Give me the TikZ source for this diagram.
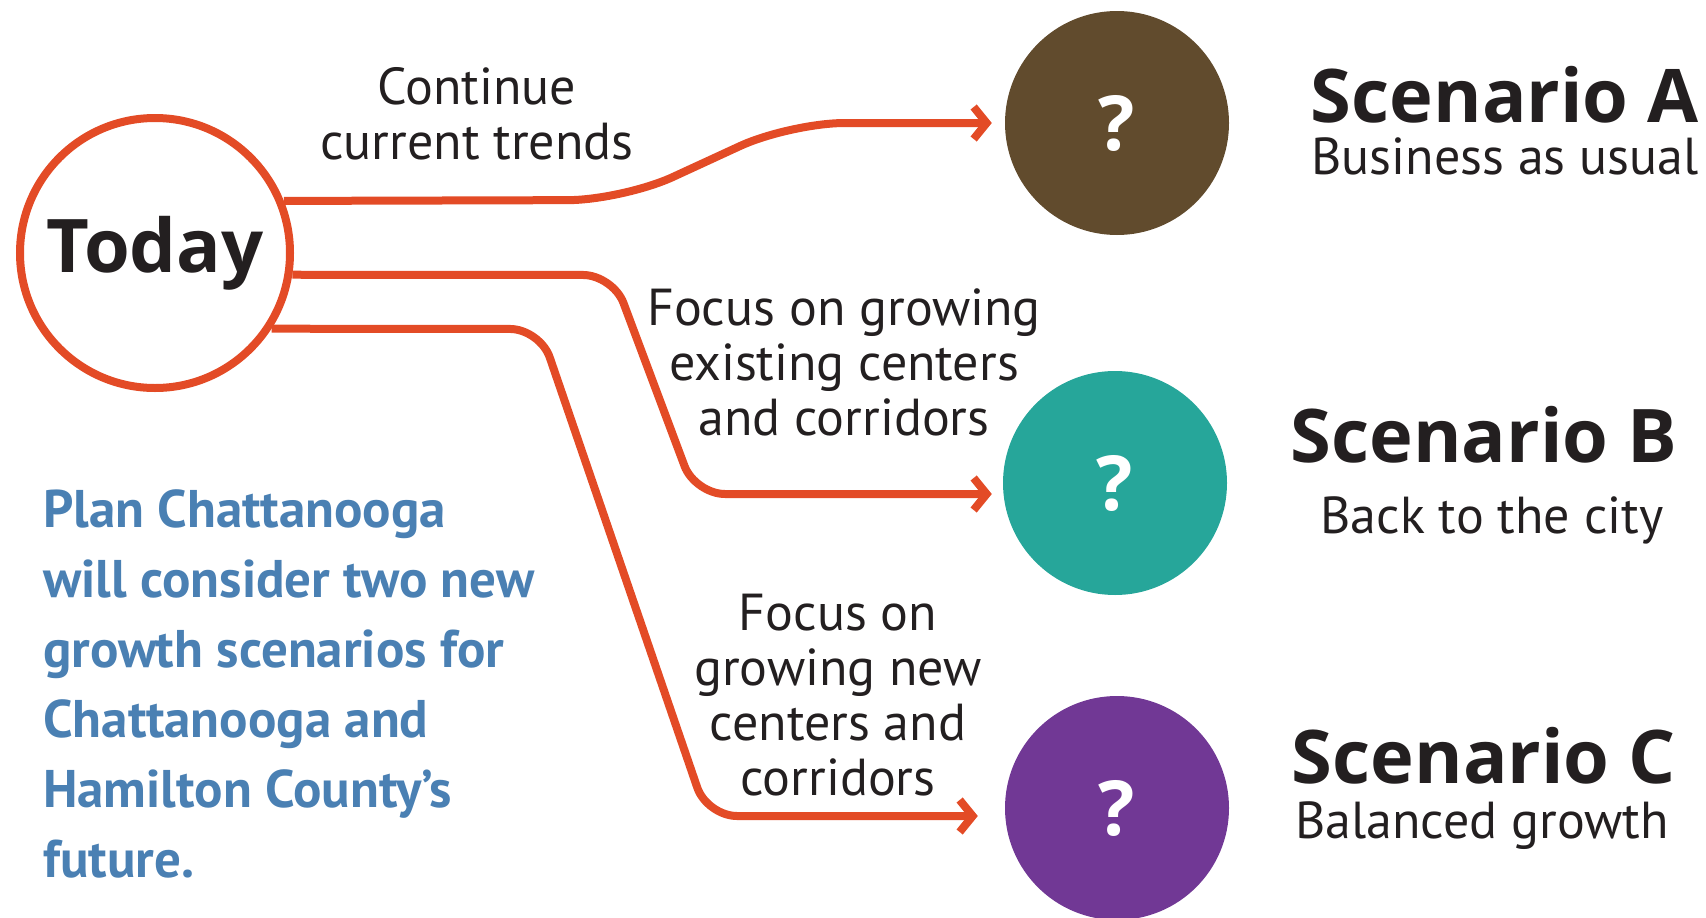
\documentclass[tikz,border=0pt]{standalone}
\usepackage{fontspec}
\setmainfont{PT Sans}
\newfontfamily\headfont{Open Sans}
\usepackage{xcolor}
\usepackage{tikz}
\usetikzlibrary{arrows.meta, positioning}
\usetikzlibrary{calc}
\definecolor{trendorange}{HTML}{E34B26}
\definecolor{scenbrown}{HTML}{614B2D}
\definecolor{scenteal}{HTML}{26A69A}
\definecolor{scenpurple}{HTML}{713895}
\definecolor{planblue}{HTML}{4A80B3}
\definecolor{inkblack}{HTML}{231F20}

\begin{document}
\begin{tikzpicture}[x=1pt, y=-1pt,
        startnode/.style={draw=trendorange, line width=8pt, circle,
            minimum size=270pt, inner sep=0pt, text=inkblack,
            font=\headfont\bfseries\fontsize{74}{80}\selectfont},
        scenario/.style={circle, minimum size=224pt, inner sep=0pt,
            text=white, font=\headfont\bfseries\fontsize{76}{76}\selectfont},
        pathlabel/.style={align=center, inner sep=0pt, text=inkblack,
            font=\fontsize{52}{55}\selectfont},
        scentitle/.style={anchor=base, inner sep=0pt, text=inkblack,
            font=\headfont\bfseries\fontsize{74}{74}\selectfont},
        scensub/.style={anchor=base, inner sep=0pt, text=inkblack,
            font=\fontsize{52}{55}\selectfont},
        link/.style={draw=trendorange, line width=8pt, rounded corners=30pt,
            -{Straight Barb[length=13pt, width=32pt]}}]
        \useasboundingbox (0,0) rectangle (1706,918);
        % start and the three scenarios
        \node[startnode] (today) at (155,253) {Today};
        \node[scenario, fill=scenbrown] (scA) at (1117,123) {?};
        \node[scenario, fill=scenteal] (scB) at (1115,483) {?};
        \node[scenario, fill=scenpurple] (scC) at (1117,808) {?};
        % bends of the connectors
        \coordinate (bendA1) at (623,200);
        \coordinate (bendA2) at (790,123);
        \coordinate (bendB1) at (613,275);
        \coordinate (bendB2) at (695,494);
        \coordinate (bendC1) at (540,329);
        \coordinate (bendC2) at (707,816);
        \draw[link, rounded corners=55pt, shorten >=13pt] (today.22.6) -- (bendA1) -- (bendA2) -- (bendA2 -| scA.west);
        \draw[link, shorten >=11pt] (today.-9.2) -- (bendB1) -- (bendB2) -- (bendB2 -| scB.west);
        \draw[link, shorten >=27pt] (today.-33.4) -- (bendC1) -- (bendC2) -- (bendC2 -| scC.west);
        % labels on the connectors
        \node[pathlabel] (trendlabel) at (477,114) {Continue\\current trends};
        \node[pathlabel] (existlabel) at (844,362) {Focus on growing\\existing centers\\and corridors};
        \node[pathlabel] (newlabel) at (838,695) {Focus on\\growing new\\centers and\\corridors};
        % scenario names
        \node[scentitle] (titleA) at (1505,122) {Scenario A};
        \node[scensub] (subA) at (1505,174) {Business as usual};
        \node[scentitle] (titleB) at (1484,462) {Scenario B};
        \node[scensub] (subB) at (1492,533) {Back to the city};
        \node[scentitle] (titleC) at (1484,783) {Scenario C};
        \node[scensub] (subC) at (1482,838) {Balanced growth};
        % note
        \node[anchor=north west, inner sep=0pt, align=left, text=planblue,
            font=\bfseries\fontsize{53}{70}\selectfont] (note) at (43,489)
            {Plan Chattanooga\\will consider two new\\growth scenarios for\\Chattanooga and\\Hamilton County’s\\future.};
    \end{tikzpicture}
\end{document}
